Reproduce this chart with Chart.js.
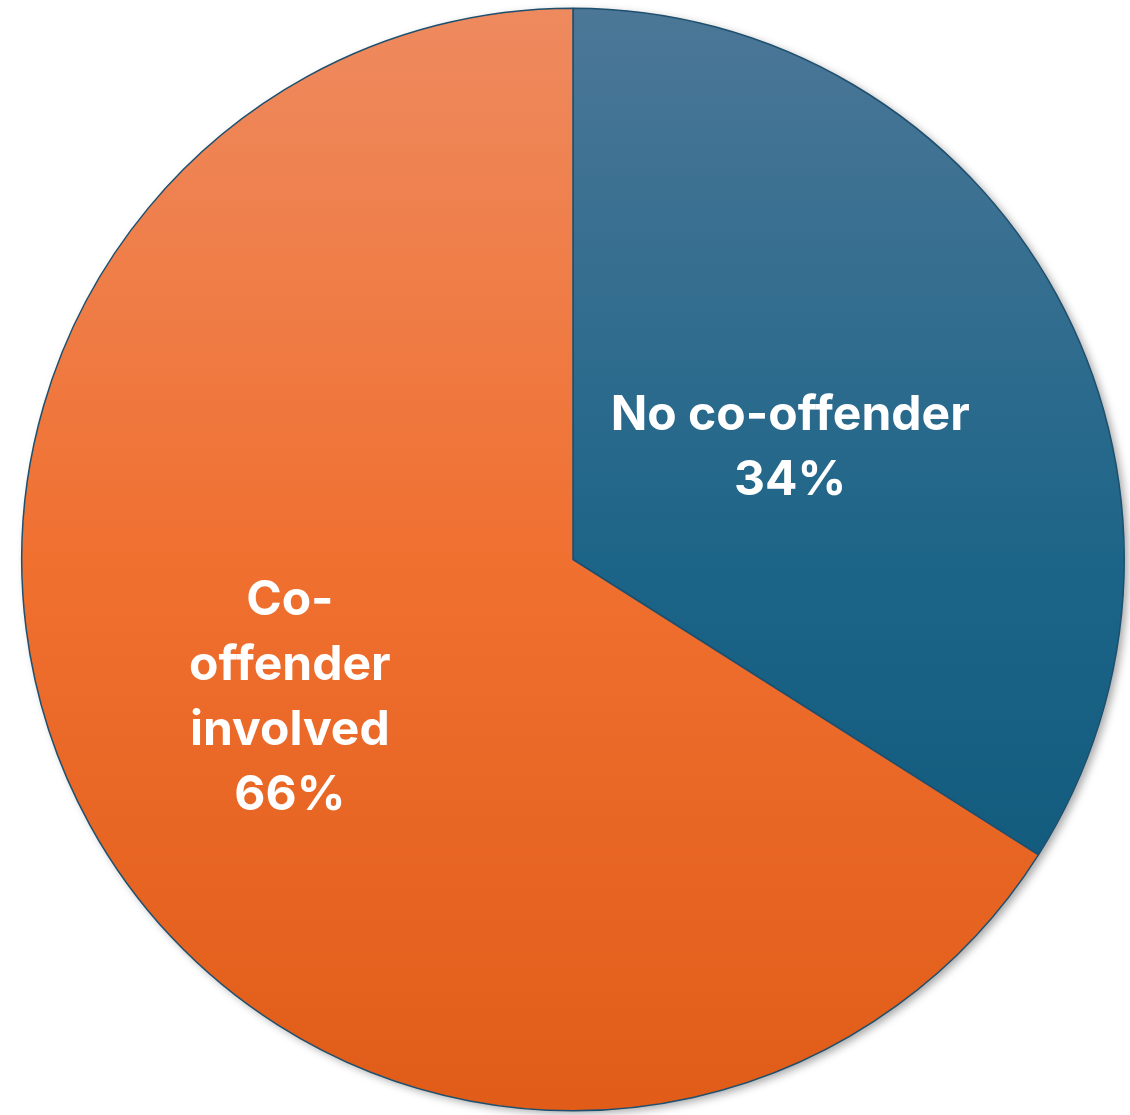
<!DOCTYPE html>
<html>
<head>
<meta charset="utf-8">
<script src="https://cdn.jsdelivr.net/npm/chart.js@4"></script>
<style>
  body { margin: 0; background: #fff; }
  #wrap { width: 1130px; height: 1115px; }
</style>
</head>
<body>
<div id="wrap"><canvas id="pie" width="1130" height="1115"></canvas></div>
<script>
const categories = ['No co-offender', 'Co-offender involved'];
const shares = [34, 66];
const labelLines = [['No co-offender', '34%'], ['Co-', 'offender', 'involved', '66%']];

// vertical gradients, top -> bottom
const gradStops = [
  ['#4c7797', '#1d6588', '#0a5476'],
  ['#ee8a5f', '#f07030', '#e05c18']
];

function sliceFill(ctx) {
  const area = ctx.chart.chartArea;
  if (!area) return gradStops[ctx.dataIndex][1];
  const g = ctx.chart.ctx.createLinearGradient(0, area.top, 0, area.bottom);
  const s = gradStops[ctx.dataIndex];
  g.addColorStop(0, s[0]);
  g.addColorStop(0.5, s[1]);
  g.addColorStop(1, s[2]);
  return g;
}

// soft shadow behind the pie
const shadowPlugin = {
  id: 'shadow',
  beforeDatasetsDraw(chart) {
    const arc = chart.getDatasetMeta(0).data[0];
    if (!arc) return;
    const c = chart.ctx;
    c.save();
    c.shadowColor = 'rgba(0,0,0,0.35)';
    c.shadowBlur = 8;
    c.shadowOffsetX = 4;
    c.shadowOffsetY = 3;
    c.fillStyle = '#fff';
    c.beginPath();
    c.arc(arc.x, arc.y, arc.outerRadius, 0, Math.PI * 2);
    c.fill();
    c.restore();
  }
};

// labels inside slices
const sliceLabels = {
  id: 'sliceLabels',
  afterDatasetsDraw(chart, args, opts) {
    const c = chart.ctx;
    const meta = chart.getDatasetMeta(0);
    c.save();
    c.fillStyle = '#fff';
    c.font = 'bold 48px Inter, "Open Sans", sans-serif';
    c.textAlign = 'center';
    c.textBaseline = 'middle';
    meta.data.forEach((arc, i) => {
      const mid = (arc.startAngle + arc.endAngle) / 2 + opts.shift[i] * Math.PI / 180;
      const r = arc.outerRadius * opts.radius[i];
      const x = arc.x + Math.cos(mid) * r;
      const y = arc.y + Math.sin(mid) * r;
      const lines = labelLines[i];
      const top = y - (lines.length - 1) * opts.lineHeight / 2;
      lines.forEach((t, k) => c.fillText(t, x, top + k * opts.lineHeight));
    });
    c.restore();
  }
};

new Chart(document.getElementById('pie'), {
  type: 'pie',
  data: {
    labels: categories,
    datasets: [{
      data: shares,
      backgroundColor: sliceFill,
      borderColor: '#1d4f6e',
      borderWidth: 1.5
    }]
  },
  options: {
    responsive: false,
    animation: false,
    layout: { padding: { left: 21, right: 5, top: 7, bottom: 3 } },
    plugins: {
      legend: { display: false },
      tooltip: { enabled: false },
      sliceLabels: { radius: [0.443, 0.572], shift: [1.6, 2.7], lineHeight: 65 }
    }
  },
  plugins: [shadowPlugin, sliceLabels]
});
</script>
</body>
</html>
